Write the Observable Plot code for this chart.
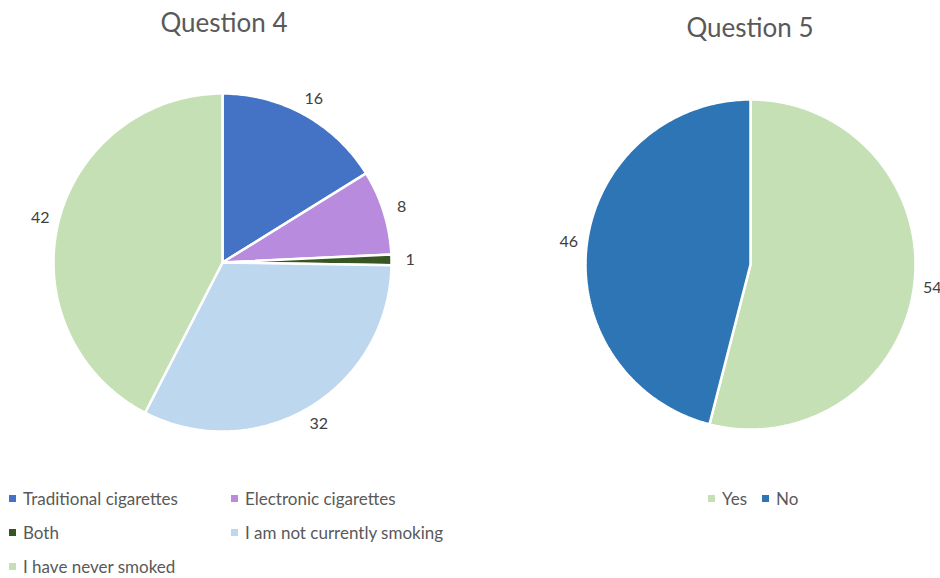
<!DOCTYPE html>
<html>
<head>
<meta charset="utf-8">
<script src="https://cdn.jsdelivr.net/npm/d3@7"></script>
<script src="https://cdn.jsdelivr.net/npm/@observablehq/plot@0.6"></script>
<style>
  html, body { margin: 0; padding: 0; background: #fff; }
  #root { position: relative; width: 940px; height: 578px; overflow: hidden; font-family: Lato, "Open Sans", sans-serif; }
  .title { position: absolute; font-size: 26px; color: #595959; transform: translateX(-50%); white-space: nowrap; }
  .chart { position: absolute; left: 0; top: 0; }
  .leg { position: absolute; font-size: 17px; color: #595959; white-space: nowrap; display: flex; align-items: center; }
  .leg .sw { display: inline-block; width: 7px; height: 7px; margin-right: 7px; }
</style>
</head>
<body>
<div id="root"></div>
<script>
// ---- Data ----
const q4Title = "Question 4";
const q4Categories = ["Traditional cigarettes", "Electronic cigarettes", "Both", "I am not currently smoking", "I have never smoked"];
const q4Values = [16, 8, 1, 32, 42];
const q4Colors = ["#4472C4", "#B88BDE", "#375623", "#BDD7EE", "#C5E0B4"];

const q5Title = "Question 5";
const q5Categories = ["Yes", "No"];
const q5Values = [54, 46];
const q5Colors = ["#C5E0B4", "#2E75B6"];

const root = document.getElementById("root");

function slicesOf(categories, values) {
  const total = d3.sum(values);
  const polys = [];
  const labels = [];
  let acc = 0;
  categories.forEach((c, i) => {
    const a0 = acc / total * 2 * Math.PI;
    acc += values[i];
    const a1 = acc / total * 2 * Math.PI;
    const n = Math.max(2, Math.ceil((a1 - a0) / (Math.PI / 180)));
    polys.push({cat: c, x: 0, y: 0});
    for (let k = 0; k <= n; k++) {
      const a = a0 + (a1 - a0) * k / n;
      polys.push({cat: c, x: Math.sin(a), y: Math.cos(a)});
    }
    polys.push({cat: c, x: 0, y: 0});
    const am = (a0 + a1) / 2;
    labels.push({cat: c, value: values[i], x: Math.sin(am) * 1.11, y: Math.cos(am) * 1.11});
  });
  return {polys, labels};
}

function pie({categories, values, colors, cx, cy, r}) {
  const {polys, labels} = slicesOf(categories, values);
  const W = 940, H = 470;
  return Plot.plot({
    width: W, height: H,
    margin: 0,
    style: {background: "transparent", overflow: "visible"},
    x: {domain: [-1, 1], range: [cx - r, cx + r], axis: null},
    y: {domain: [-1, 1], range: [cy + r, cy - r], axis: null},
    color: {domain: categories, range: colors},
    marks: [
      Plot.line(polys, {x: "x", y: "y", z: "cat", fill: "cat", stroke: "white", strokeWidth: 2.5, strokeLinejoin: "miter", curve: "linear"}),
      Plot.text(labels, {x: "x", y: "y", text: d => String(d.value), fill: "#404040", fontSize: 16, fontFamily: "Lato, 'Open Sans', sans-serif"})
    ]
  });
}

function addChart(svg) {
  const d = document.createElement("div");
  d.className = "chart";
  d.appendChild(svg);
  root.appendChild(d);
}

addChart(pie({categories: q4Categories, values: q4Values, colors: q4Colors, cx: 222, cy: 262, r: 169}));
addChart(pie({categories: q5Categories, values: q5Values, colors: q5Colors, cx: 750, cy: 264, r: 165}));

function addTitle(text, x, y) {
  const t = document.createElement("div");
  t.className = "title";
  t.textContent = text;
  t.style.left = x + "px";
  t.style.top = y + "px";
  root.appendChild(t);
}
addTitle(q4Title, 224, 6);
addTitle(q5Title, 750, 11);

function addLegend(cat, color, x, y) {
  const l = document.createElement("div");
  l.className = "leg";
  l.style.left = x + "px";
  l.style.top = y + "px";
  const sw = document.createElement("span");
  sw.className = "sw";
  sw.style.background = color;
  l.appendChild(sw);
  l.appendChild(document.createTextNode(cat));
  root.appendChild(l);
}
const q4Pos = [[9, 488], [231, 488], [9, 522], [231, 522], [9, 556]];
q4Categories.forEach((c, i) => addLegend(c, q4Colors[i], q4Pos[i][0], q4Pos[i][1]));
const q5Pos = [[708, 488], [762, 488]];
q5Categories.forEach((c, i) => addLegend(c, q5Colors[i], q5Pos[i][0], q5Pos[i][1]));
</script>
</body>
</html>
